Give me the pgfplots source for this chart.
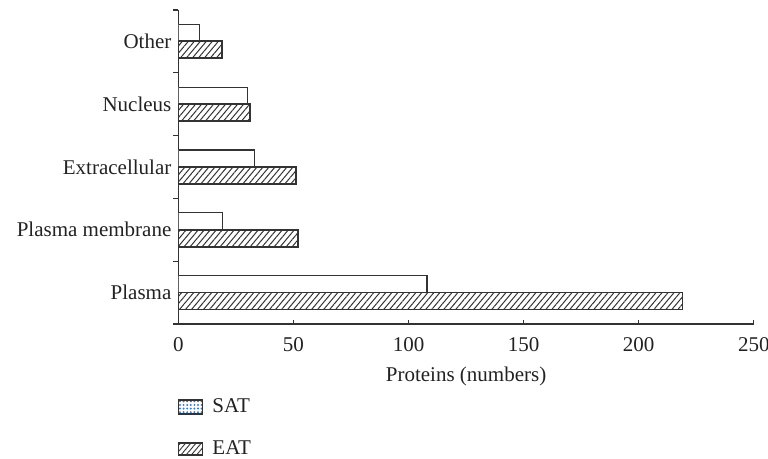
\documentclass[border=0pt]{standalone}
\usepackage{fontspec}
\setmainfont{Liberation Serif}
\usepackage{pgfplots}
\pgfplotsset{compat=1.18}
\usetikzlibrary{patterns.meta}
\definecolor{edge}{HTML}{333333}
\definecolor{txt}{HTML}{222222}
\definecolor{dotblue}{HTML}{3B7BC0}
\begin{document}
\begin{tikzpicture}
\useasboundingbox (0,0) rectangle (384pt,229.5pt);
\begin{axis}[
  at={(89.2pt,67.5pt)}, anchor=south west,
  scale only axis, width=287.7pt, height=157pt,
  xmin=0, xmax=250, ymin=-0.5, ymax=4.5,
  axis x line*=bottom, axis y line*=left,
  axis line style={-, edge, line width=0.8pt},
  xtick={0,50,...,250},
  ytick={0,1,2,3,4},
  yticklabels={Plasma,Plasma membrane,Extracellular,Nucleus,Other},
  minor ytick={-0.5,0.5,...,4.5},
  major tick length=2pt,
  minor tick length=2.5pt,
  tick style={edge, line width=0.6pt},
  major y tick style={draw=none},
  tick align=inside,
  /pgf/number format/assume math mode=true,
  ticklabel style={font=\fontsize{10.5}{12}\selectfont, text=txt},
  xticklabel style={yshift=-3pt},
  yticklabel style={xshift=2pt},
  xlabel={Proteins (numbers)},
  xlabel style={font=\fontsize{10.5}{12}\selectfont, text=txt, yshift=-1pt},
  legend style={at={(axis description cs:0,0)}, anchor=north west,
    xshift=-3.5pt, yshift=-33pt, draw=none, fill=none,
    font=\fontsize{10.5}{12}\selectfont, text=txt, row sep=8.5pt},
  legend cell align=left,
  xbar, bar width=8.5pt,
]
\addplot[draw=edge, line width=0.6pt, fill=white, bar shift=4.25pt, forget plot]
  coordinates {(108,0) (19,1) (33,2) (30,3) (9,4)};
\addplot[draw=edge, line width=0.9pt, pattern={Lines[angle=50, distance=2.3pt, line width=0.5pt]}, pattern color=edge, bar shift=-4.25pt, forget plot]
  coordinates {(219,0) (52,1) (51,2) (31,3) (19,4)};
\addlegendimage{legend image code/.code={\draw[draw=edge, line width=0.7pt, pattern={Dots[distance=1.8pt, radius=0.55pt]}, pattern color=dotblue] (0pt,-3.5pt) rectangle (12pt,3.5pt); \path[draw=none] (0pt,0pt) -- (15pt,0pt);}}
\addlegendentry{SAT}
\addlegendimage{legend image code/.code={\draw[draw=edge, line width=0.8pt, pattern={Lines[angle=50, distance=2.0pt, line width=0.45pt]}, pattern color=edge] (0pt,-3pt) rectangle (12pt,3pt); \path[draw=none] (0pt,0pt) -- (15pt,0pt);}}
\addlegendentry{EAT}
\end{axis}
\end{tikzpicture}
\end{document}
